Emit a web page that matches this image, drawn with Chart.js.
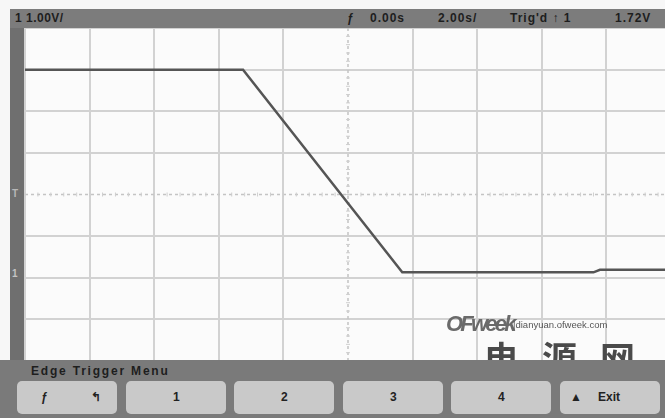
<!DOCTYPE html>
<html>
<head>
<meta charset="utf-8">
<script src="https://cdn.jsdelivr.net/npm/chart.js@4.4.1/dist/chart.umd.min.js"></script>
<style>
  html, body { margin: 0; padding: 0; width: 665px; height: 418px; overflow: hidden; background: #f7f7f7; }
  #pantalla { position: absolute; left: 0; top: 0; width: 680px; height: 418px; }
  #grafico { position: absolute; left: 0; top: 0; }
  .barra { position: absolute; background: #7c7c7c; }
  .txt { position: absolute; font-family: "Liberation Sans", Arial, sans-serif; font-weight: bold; color: #1e1e1e; white-space: nowrap; }
  .estado { top: 11px; font-size: 12px; }
  .boton { position: absolute; top: 381px; height: 33px; width: 100px; background: #c9c9c9; border-radius: 5px;
           font-family: "Liberation Sans", Arial, sans-serif; font-weight: bold; color: #222; font-size: 12px; }
  .boton span { position: absolute; top: 9px; }
</style>
</head>
<body>
<div id="pantalla">
  <canvas id="grafico" width="680" height="418"></canvas>

  <!-- marca de agua china (queda tapada en parte por el menú) -->
  <div class="txt" style="left:484px; top:331px; font-size:35px; color:#4a4a4a; letter-spacing:23px; font-family:'Noto Sans CJK SC';">电源网</div>

  <!-- barra de estado superior -->
  <div class="barra" style="left:10px; top:9px; width:670px; height:19px;"></div>
  <div class="txt estado" style="left:15px; letter-spacing:0.5px;">1 1.00V/</div>
  <div class="txt estado" style="left:347px;">ƒ</div>
  <div class="txt estado" style="left:370px; letter-spacing:1px;">0.00s</div>
  <div class="txt estado" style="left:438px; letter-spacing:1px;">2.00s/</div>
  <div class="txt estado" style="left:510px; letter-spacing:1px;">Trig'd ↑ 1</div>
  <div class="txt estado" style="left:615px; letter-spacing:1px;">1.72V</div>

  <!-- barra lateral izquierda -->
  <div class="barra" style="left:10px; top:28px; width:14px; height:334px; background:#6f6f6f;"></div>
  <div class="txt" style="left:12px; top:188px; font-size:10px; color:#b8b8b8;">T</div>
  <div class="txt" style="left:12px; top:268px; font-size:10px; color:#c4c4c4;">1</div>

  <!-- menú inferior -->
  <div class="barra" style="left:0px; top:360px; width:680px; height:58px; background:#7a7a7a;"></div>
  <div class="txt" style="left:31px; top:364px; font-size:12px; letter-spacing:1.8px;">Edge Trigger Menu</div>
  <div class="boton" style="left:17px;"><span style="left:24px;">ƒ</span><span style="left:74px;">↰</span></div>
  <div class="boton" style="left:126px;"><span style="left:47px;">1</span></div>
  <div class="boton" style="left:234px;"><span style="left:47px;">2</span></div>
  <div class="boton" style="left:343px;"><span style="left:47px;">3</span></div>
  <div class="boton" style="left:451px;"><span style="left:47px;">4</span></div>
  <div class="boton" style="left:560px;"><span style="left:10px;">▲</span><span style="left:38px;">Exit</span></div>

  <!-- marca de agua OFweek -->
  <div class="txt" style="left:446px; top:311px; font-size:22px; font-style:italic; color:#6a6a6a; letter-spacing:-2.8px;">OFweek</div>
  <div class="txt" style="left:513px; top:319px; font-size:9.5px; color:#555; font-weight:normal;">|dianyuan.ofweek.com</div>
</div>

<script>
const tiempoSeg = [-10, -3.25, 1.68, 7.6, 7.8, 10.5];
const canal1Volts = [3.0, 3.0, -1.87, -1.87, -1.81, -1.81];

// Retícula del osciloscopio: 10 divisiones horizontales, 8 verticales
const divTiempo = [-10, -8, -6, -4, -2, 0, 2, 4, 6, 8, 10];
const divVoltios = [-4, -3, -2, -1, 0, 1, 2, 3, 4];

const COLOR_RETICULA = "#d2d2d2";

// Ejes centrales punteados con marcas menores
const ejesCentrales = {
  id: "ejesCentrales",
  beforeDatasetsDraw(chart) {
    const { ctx, chartArea, scales } = chart;
    const x0 = scales.x.getPixelForValue(0);
    const y0 = scales.y.getPixelForValue(0);
    ctx.save();
    ctx.strokeStyle = "#c4c4c4";
    ctx.lineWidth = 1.5;
    ctx.setLineDash([3, 3]);
    ctx.beginPath();
    ctx.moveTo(chartArea.left, y0); ctx.lineTo(chartArea.right, y0);
    ctx.moveTo(x0, chartArea.top); ctx.lineTo(x0, chartArea.bottom);
    ctx.stroke();
    ctx.setLineDash([]);
    ctx.strokeStyle = "#cfcfcf";
    ctx.lineWidth = 1;
    ctx.beginPath();
    for (let t = -10; t <= 10; t += 0.4) {
      const px = scales.x.getPixelForValue(t);
      ctx.moveTo(px, y0 - 2); ctx.lineTo(px, y0 + 2);
    }
    for (let v = -4; v <= 4; v += 0.2) {
      const py = scales.y.getPixelForValue(v);
      ctx.moveTo(x0 - 2, py); ctx.lineTo(x0 + 2, py);
    }
    ctx.stroke();
    ctx.restore();
  }
};

const fondoPantalla = {
  id: "fondoPantalla",
  beforeDraw(chart) {
    const { ctx, chartArea } = chart;
    ctx.save();
    ctx.fillStyle = "#fbfbfb";
    ctx.fillRect(chartArea.left, chartArea.top, chartArea.right - chartArea.left, chartArea.bottom - chartArea.top);
    ctx.restore();
  }
};

new Chart(document.getElementById("grafico"), {
  type: "line",
  data: {
    datasets: [{
      label: "Canal 1",
      data: tiempoSeg.map((t, i) => ({ x: t, y: canal1Volts[i] })),
      borderColor: "#555555",
      borderWidth: 2.5,
      pointRadius: 0,
      tension: 0
    }]
  },
  options: {
    responsive: false,
    animation: false,
    layout: { padding: { left: 25, right: 9, top: 28, bottom: 57 } },
    plugins: { legend: { display: false }, tooltip: { enabled: false } },
    scales: {
      x: {
        type: "linear", min: -10, max: 10,
        afterBuildTicks: (eje) => { eje.ticks = divTiempo.map(v => ({ value: v })); },
        ticks: { display: false },
        grid: { drawTicks: false, lineWidth: 2, color: (c) => c.tick && c.tick.value === 0 ? "transparent" : COLOR_RETICULA },
        border: { display: false }
      },
      y: {
        type: "linear", min: -4, max: 4,
        afterBuildTicks: (eje) => { eje.ticks = divVoltios.map(v => ({ value: v })); },
        ticks: { display: false },
        grid: { drawTicks: false, lineWidth: 2, color: (c) => c.tick && c.tick.value === 0 ? "transparent" : COLOR_RETICULA },
        border: { display: false }
      }
    }
  },
  plugins: [fondoPantalla, ejesCentrales]
});
</script>
</body>
</html>
